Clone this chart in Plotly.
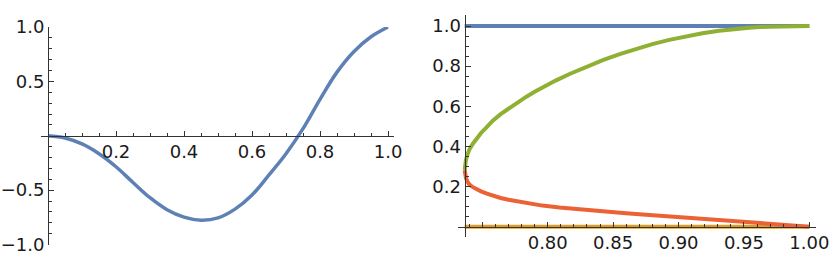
import plotly.graph_objects as go

# ---------------- data ----------------
# left panel: single curve
left_x = [0.0, 0.05, 0.10, 0.15, 0.20, 0.25, 0.30, 0.35, 0.40, 0.45, 0.50,
          0.55, 0.60, 0.65, 0.70, 0.75, 0.80, 0.85, 0.90, 0.95, 1.0]
left_y = [0.0, -0.02, -0.075, -0.165, -0.285, -0.43, -0.57, -0.68, -0.748, -0.776, -0.755,
          -0.675, -0.545, -0.36, -0.165, 0.065, 0.335, 0.585, 0.775, 0.91, 1.0]

# right panel: four branches
blue_x = [0.7365, 1.0]
blue_y = [1.0, 1.0]
orange_x = [0.7365, 1.0]
orange_y = [0.0, 0.0]
green_x = [0.7365, 0.7368, 0.7375, 0.7385, 0.7400, 0.7425, 0.7455, 0.7490, 0.7530, 0.7580,
           0.7640, 0.7710, 0.7775, 0.7837, 0.7900, 0.7964, 0.8060, 0.8167, 0.8290, 0.8421,
           0.8550, 0.8675, 0.8800, 0.8929, 0.9060, 0.9183, 0.9310, 0.9437, 0.9560, 0.9691,
           0.9850, 1.0]
green_y = [0.282, 0.308, 0.333, 0.357, 0.383, 0.411, 0.439, 0.467, 0.494, 0.528,
           0.561, 0.594, 0.622, 0.648, 0.672, 0.696, 0.728, 0.761, 0.796, 0.830,
           0.860, 0.887, 0.910, 0.931, 0.949, 0.964, 0.976, 0.986, 0.993, 0.997,
           0.9995, 1.0]
red_x = [0.7365, 0.7368, 0.7375, 0.7385, 0.7400, 0.7425, 0.7456, 0.7490, 0.7535, 0.7582,
         0.7640, 0.7700, 0.7770, 0.7837, 0.7960, 0.8090, 0.8217, 0.8344, 0.8471, 0.8598,
         0.8725, 0.8852, 0.8979, 0.9106, 0.9233, 0.9360, 0.9487, 0.9614, 0.9741, 0.9868, 1.0]
red_y = [0.282, 0.262, 0.242, 0.226, 0.211, 0.198, 0.186, 0.176, 0.165, 0.154,
         0.143, 0.134, 0.125, 0.117, 0.105, 0.095, 0.087, 0.080, 0.073, 0.067,
         0.061, 0.055, 0.049, 0.043, 0.036, 0.030, 0.024, 0.018, 0.012, 0.006, 0.0]

# tick labels
left_xticks = [0.2, 0.4, 0.6, 0.8, 1.0]
left_xtext = ["0.2", "0.4", "0.6", "0.8", "1.0"]
left_yticks = [-1.0, -0.5, 0.5, 1.0]
left_ytext = ["\u22121.0", "\u22120.5", "0.5", "1.0"]
right_xticks = [0.75, 0.80, 0.85, 0.90, 0.95, 1.00]
right_xtext = ["", "0.80", "0.85", "0.90", "0.95", "1.00"]
right_yticks = [0.2, 0.4, 0.6, 0.8, 1.0]
right_ytext = ["0.2", "0.4", "0.6", "0.8", "1.0"]

# ---------------- layout helpers ----------------
W, H = 830, 272
def px(x):
    return x / W
def py(y):
    return 1 - y / H

BLUE = "#5E81B5"
ORANGE = "#E19C24"
GREEN = "#8FB032"
RED = "#EB6235"
AX = "#333333"
FONT = dict(family="DejaVu Sans, Arial, sans-serif", size=18, color="#1a1a1a")

fig = go.Figure()
fig.add_trace(go.Scatter(x=left_x, y=left_y, mode="lines",
                         line=dict(color=BLUE, width=3.5, shape="spline", smoothing=1.0),
                         xaxis="x", yaxis="y"))
fig.add_trace(go.Scatter(x=blue_x, y=blue_y, mode="lines",
                         line=dict(color=BLUE, width=4), xaxis="x2", yaxis="y2"))
fig.add_trace(go.Scatter(x=orange_x, y=orange_y, mode="lines",
                         line=dict(color=ORANGE, width=4), xaxis="x2", yaxis="y2"))
fig.add_trace(go.Scatter(x=green_x, y=green_y, mode="lines",
                         line=dict(color=GREEN, width=4), xaxis="x2", yaxis="y2"))
fig.add_trace(go.Scatter(x=red_x, y=red_y, mode="lines",
                         line=dict(color=RED, width=4), xaxis="x2", yaxis="y2"))

common = dict(showgrid=False, zeroline=False, showline=True, linecolor=AX, linewidth=1,
              ticks="inside", tickcolor=AX, ticklen=5, tickwidth=1, tickfont=FONT,
              tickmode="array", fixedrange=True, automargin=False)

def minor(vals):
    return dict(tickmode="array", tickvals=vals, ticks="inside", ticklen=3,
                tickcolor=AX, tickwidth=1)

lx_minor = [round(i * 0.05, 2) for i in range(1, 21) if i % 4 != 0]
ly_minor = [round(-1 + i * 0.1, 1) for i in range(1, 20) if i not in (5, 10, 15)]
rx_minor = [round(0.74 + i * 0.01, 2) for i in range(0, 27) if (round(0.74 + i * 0.01, 2) * 100) % 5 != 0]
ry_minor = [round(i * 0.05, 2) for i in range(1, 21) if i % 4 != 0] + [1.05]

fig.update_layout(
    width=W, height=H, autosize=False,
    margin=dict(l=0, r=0, t=0, b=0, pad=0, autoexpand=False),
    paper_bgcolor="white", plot_bgcolor="white", showlegend=False,
    xaxis=dict(common, domain=[px(41), px(394)], range=[-0.0206, 1.0176],
               anchor="free", position=py(135.7),
               tickvals=left_xticks, ticktext=left_xtext, minor=minor(lx_minor)),
    yaxis=dict(common, domain=[py(244.5), py(27)], range=[-1.0, 1.0],
               anchor="free", position=px(48),
               tickvals=left_yticks, ticktext=left_ytext, minor=minor(ly_minor)),
    xaxis2=dict(common, domain=[px(458), px(816)], range=[0.7314, 1.0051],
                anchor="free", position=py(226.7),
                tickvals=right_xticks, ticktext=right_xtext, minor=minor(rx_minor)),
    yaxis2=dict(common, domain=[py(237.3), py(15)], range=[-0.053, 1.055],
                anchor="free", position=px(464.5),
                tickvals=right_yticks, ticktext=right_ytext, minor=minor(ry_minor)),
)

fig.write_html("out.html", config={"displayModeBar": False},
               post_script="document.body.style.margin='0';document.body.style.overflow='hidden';")
